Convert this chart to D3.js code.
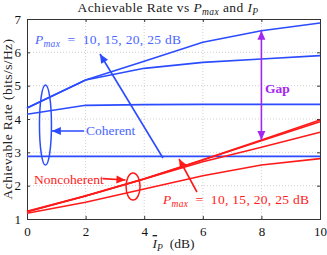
<!DOCTYPE html>
<html><head><meta charset="utf-8">
<script src="https://cdn.jsdelivr.net/npm/d3@7"></script>
<style>
html,body{margin:0;padding:0;background:#fff;}
svg{display:block;}
text{font-family:"Liberation Serif","DejaVu Serif",serif;}
</style></head>
<body>
<script>
// ---- data ----
const ipDb = [0, 2, 4, 6, 8, 10];
const coh10 = [2.88, 2.88, 2.88, 2.88, 2.88, 2.88];
const coh15 = [4.14, 4.41, 4.43, 4.44, 4.44, 4.44];
const coh20 = [4.33, 5.17, 5.52, 5.70, 5.80, 5.90];
const coh25 = [4.33, 5.17, 5.73, 6.30, 6.65, 6.88];
const non10 = [1.17, 1.50, 1.90, 2.30, 2.62, 2.81];
const non15 = [1.22, 1.69, 2.20, 2.72, 3.15, 3.60];
const non20 = [1.22, 1.69, 2.20, 2.77, 3.35, 3.92];
const non25 = [1.23, 1.70, 2.21, 2.78, 3.37, 3.97];
const xTicks = [0, 2, 4, 6, 8, 10];
const yTicks = [1, 2, 3, 4, 5, 6, 7];

const W = 327, H = 255;
const m = {l: 27, r: 7, t: 19, b: 36};
const svg = d3.select("body").append("svg").attr("width", W).attr("height", H);
const x = d3.scaleLinear().domain([0, 10]).range([m.l, W - m.r]);
const y = d3.scaleLinear().domain([1, 7]).range([H - m.b, m.t]);

const BLUE = "#2b4bff", BLUET = "#4a66ff", RED = "#ff1a1a", PURP = "#a526f0";
const FS = 13.5;

// grid
const g = svg.append("g");
xTicks.slice(1, -1).forEach(t => g.append("line").attr("x1", x(t)).attr("x2", x(t)).attr("y1", y(1)).attr("y2", y(7))
  .attr("stroke", "#c4c4c4").attr("stroke-width", 0.8).attr("stroke-dasharray", "1,2"));
yTicks.slice(1, -1).forEach(t => g.append("line").attr("y1", y(t)).attr("y2", y(t)).attr("x1", x(0)).attr("x2", x(10))
  .attr("stroke", "#c4c4c4").attr("stroke-width", 0.8).attr("stroke-dasharray", "1,2"));

// axes
svg.append("g").attr("transform", `translate(0,${y(1)})`)
  .call(d3.axisBottom(x).tickValues(xTicks).tickSize(-3).tickPadding(8).tickFormat(d3.format("d")));
svg.append("g").attr("transform", `translate(${x(0)},0)`)
  .call(d3.axisLeft(y).tickValues(yTicks).tickSize(-3).tickPadding(6).tickFormat(d3.format("d")));
svg.append("g").attr("transform", `translate(0,${y(7)})`)
  .call(d3.axisTop(x).tickValues(xTicks).tickSize(-3).tickFormat(""));
svg.append("g").attr("transform", `translate(${x(10)},0)`)
  .call(d3.axisRight(y).tickValues(yTicks).tickSize(-3).tickFormat(""));
svg.selectAll(".domain").attr("stroke", "#333");
svg.selectAll(".tick line").attr("stroke", "#333");
svg.selectAll(".tick text").attr("font-family", "Liberation Serif, serif").attr("font-size", 13).attr("fill", "#111");

// lines
const line = d3.line().x((d, i) => x(ipDb[i])).y(d => y(d));
const plot = svg.append("g");
[coh10, coh15, coh20, coh25].forEach(s => plot.append("path").datum(s).attr("d", line)
  .attr("fill", "none").attr("stroke", BLUE).attr("stroke-width", 1.6));
[non10, non15, non20, non25].forEach(s => plot.append("path").datum(s).attr("d", line)
  .attr("fill", "none").attr("stroke", RED).attr("stroke-width", 1.6));

// arrow helper
function arrow(x1, y1, x2, y2, color, both) {
  const X1 = x(x1), Y1 = y(y1), X2 = x(x2), Y2 = y(y2);
  const L = 9, Wd = 4;
  function head(ax, ay, bx, by) {
    const dx = bx - ax, dy = by - ay, len = Math.hypot(dx, dy), ux = dx / len, uy = dy / len;
    const px = bx - ux * L, py = by - uy * L;
    svg.append("path").attr("d", `M${bx},${by}L${px - uy * Wd},${py + ux * Wd}L${px},${py}L${px + uy * Wd},${py - ux * Wd}Z`)
      .attr("fill", color);
  }
  svg.append("line").attr("x1", X1).attr("y1", Y1).attr("x2", X2).attr("y2", Y2).attr("stroke", color).attr("stroke-width", 1.6);
  head(X1, Y1, X2, Y2);
  if (both) head(X2, Y2, X1, Y1);
}

// annotations
function pmaxText(tx, ty, color) {
  const t = svg.append("text").attr("x", x(tx)).attr("y", y(ty)).attr("fill", color).attr("font-size", FS)
    .attr("letter-spacing", 0.3).attr("xml:space", "preserve");
  t.append("tspan").attr("font-style", "italic").text("P");
  t.append("tspan").attr("font-style", "italic").attr("font-size", 9.5).attr("dy", 3).text("max");
  t.append("tspan").attr("dy", -3).text("  =  10, 15, 20, 25 dB");
}
pmaxText(0.27, 6.25, BLUET);
arrow(4.64, 2.83, 2.49, 5.95, BLUE);
svg.append("ellipse").attr("cx", x(0.63)).attr("cy", y(3.82)).attr("rx", 6).attr("ry", 40)
  .attr("fill", "none").attr("stroke", BLUE).attr("stroke-width", 1.5);
arrow(1.95, 3.64, 0.85, 3.64, BLUE);
svg.append("text").attr("x", x(2.01)).attr("y", y(3.52)).attr("fill", BLUET).attr("font-size", FS).text("Coherent");

svg.append("text").attr("x", x(0.24)).attr("y", y(2.05)).attr("fill", RED).attr("font-size", FS).text("Noncoherent");
arrow(2.59, 2.21, 3.36, 2.17, RED);
svg.append("ellipse").attr("cx", x(3.62)).attr("cy", y(1.975)).attr("rx", 7).attr("ry", 13.5)
  .attr("fill", "none").attr("stroke", RED).attr("stroke-width", 1.5);
arrow(5.8, 1.81, 5.19, 2.8, RED);
pmaxText(4.64, 1.45, RED);

arrow(8, 3.37, 8, 6.65, PURP, true);
svg.append("text").attr("x", x(8.12)).attr("y", y(4.78)).attr("fill", PURP).attr("font-size", FS)
  .attr("font-weight", "bold").text("Gap");

// title
const tt = svg.append("text").attr("x", 168).attr("y", 12).attr("text-anchor", "middle")
  .attr("font-size", 13.5).attr("letter-spacing", 0.4).attr("fill", "#222").attr("xml:space", "preserve");
tt.append("tspan").text("Achievable Rate vs ");
tt.append("tspan").attr("font-style", "italic").text("P");
tt.append("tspan").attr("font-style", "italic").attr("font-size", 9.5).attr("dy", 2.5).text("max");
tt.append("tspan").attr("dy", -2.5).text(" and ");
tt.append("tspan").attr("font-style", "italic").text("I");
tt.append("tspan").attr("font-style", "italic").attr("font-size", 9.5).attr("dy", 2.5).text("P");

// x label
const xl = svg.append("text").attr("x", (x(0) + x(10)) / 2).attr("y", 248).attr("text-anchor", "middle")
  .attr("font-size", 13.5).attr("fill", "#222").attr("xml:space", "preserve");
xl.append("tspan").attr("font-style", "italic").attr("text-decoration", "overline").text("I");
xl.append("tspan").attr("font-style", "italic").attr("font-size", 9.5).attr("dy", 2.5).text("P");
xl.append("tspan").attr("dy", -2.5).text("  (dB)");

// y label
svg.append("text").attr("transform", `translate(11.5,${(y(1) + y(7)) / 2}) rotate(-90)`).attr("text-anchor", "middle")
  .attr("font-size", 13.5).attr("letter-spacing", 0.4).attr("fill", "#222").text("Achievable Rate (bits/s/Hz)");
</script>
</body></html>
